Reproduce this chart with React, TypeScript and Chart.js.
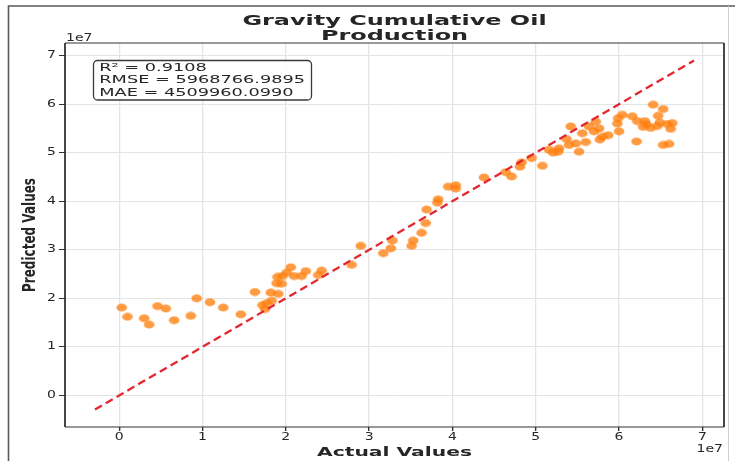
import { useEffect, useRef } from 'react';
import { Chart, registerables } from 'chart.js';

Chart.register(...registerables);

// Values are expressed in units of 1e7 (the axes carry a "1e7" offset label).
const UNIT = 1e7;
const AXIS_MIN = -0.65;
const AXIS_MAX = 7.26;
const TICKS = [0, 1, 2, 3, 4, 5, 6, 7];
const FIT_LINE = [-0.29, 6.9];

const TITLE_LINES = ['Gravity Cumulative Oil', 'Production'];
const X_LABEL = 'Actual Values';
const Y_LABEL = 'Predicted Values';
const OFFSET_LABEL = '1e7';
const STATS = ['R\u00b2 = 0.9108', 'RMSE = 5968766.9895', 'MAE = 4509960.0990'];

const actual = [
  0.03, 0.10, 0.30, 0.36, 0.46, 0.56, 0.66, 0.86, 0.93, 1.09,
  1.25, 1.46, 1.63, 1.72, 1.75, 1.77, 1.83, 1.82, 1.91, 1.89,
  1.95, 1.90, 1.96, 2.01, 2.06, 2.10, 2.19, 2.24, 2.39, 2.43,
  2.79, 2.90, 3.17, 3.26, 3.28, 3.51, 3.53, 3.63, 3.68, 3.69,
  3.82, 3.83, 3.95, 4.04, 4.04, 4.38, 4.64, 4.71, 4.81, 4.83,
  4.95, 5.08, 5.16, 5.21, 5.28, 5.27, 5.37, 5.40, 5.42, 5.48,
  5.52, 5.56, 5.60, 5.64, 5.70, 5.72, 5.76, 5.77, 5.80, 5.87,
  6.00, 5.98, 5.99, 6.04, 6.16, 6.21, 6.22, 6.31, 6.29, 6.33,
  6.38, 6.41, 6.47, 6.46, 6.49, 6.53, 6.53, 6.60, 6.58, 6.64,
  6.62,
];

const predicted = [
  1.81, 1.62, 1.59, 1.46, 1.84, 1.79, 1.55, 1.64, 2.00, 1.92,
  1.81, 1.67, 2.13, 1.86, 1.78, 1.90, 1.95, 2.12, 2.09, 2.31,
  2.30, 2.44, 2.46, 2.53, 2.64, 2.46, 2.46, 2.56, 2.48, 2.57,
  2.69, 3.08, 2.93, 3.03, 3.19, 3.08, 3.19, 3.35, 3.55, 3.83,
  3.97, 4.04, 4.30, 4.33, 4.26, 4.49, 4.60, 4.51, 4.71, 4.80,
  4.89, 4.73, 5.06, 5.00, 5.09, 5.02, 5.28, 5.16, 5.54, 5.19,
  5.02, 5.40, 5.22, 5.54, 5.44, 5.64, 5.50, 5.27, 5.33, 5.36,
  5.44, 5.60, 5.71, 5.78, 5.75, 5.23, 5.65, 5.65, 5.53, 5.58,
  5.51, 5.99, 5.76, 5.55, 5.62, 5.90, 5.16, 5.18, 5.59, 5.61,
  5.49,
];

const FONT = "'DejaVu Sans', sans-serif";
const INK = '#262626';

function drawText(
  ctx: CanvasRenderingContext2D,
  text: string,
  x: number,
  y: number,
  font: string,
  sx: number,
  align: CanvasTextAlign,
  baseline: CanvasTextBaseline,
  vertical = false,
) {
  ctx.save();
  ctx.translate(x, y);
  ctx.scale(sx, 1);
  if (vertical) ctx.rotate(-Math.PI / 2);
  ctx.font = font;
  ctx.textAlign = align;
  ctx.textBaseline = baseline;
  ctx.fillStyle = INK;
  ctx.fillText(text, 0, 0);
  ctx.restore();
}

function makeMarker(): HTMLCanvasElement {
  const c = document.createElement('canvas');
  c.width = 12;
  c.height = 9;
  const g = c.getContext('2d')!;
  g.beginPath();
  g.ellipse(6, 4.5, 5.3, 3.9, 0, 0, Math.PI * 2);
  g.fillStyle = 'rgba(255,127,14,0.78)';
  g.fill();
  return c;
}

const decorations = {
  id: 'decorations',
  beforeDraw(chart: any) {
    const ctx = chart.ctx as CanvasRenderingContext2D;
    ctx.save();
    ctx.fillStyle = '#ffffff';
    ctx.fillRect(0, 0, chart.width, chart.height);
    // outer frame
    ctx.strokeStyle = '#5a5a5a';
    ctx.lineWidth = 1.6;
    ctx.beginPath();
    ctx.moveTo(8.5, chart.height);
    ctx.lineTo(8.5, 6);
    ctx.lineTo(chart.width, 6);
    ctx.stroke();
    ctx.strokeStyle = '#cfcfcf';
    ctx.lineWidth = 1;
    ctx.beginPath();
    ctx.moveTo(728.5, 6);
    ctx.lineTo(728.5, chart.height);
    ctx.stroke();
    ctx.restore();
  },
  afterDraw(chart: any) {
    const ctx = chart.ctx as CanvasRenderingContext2D;
    const { left, right, top, bottom } = chart.chartArea;
    const xs = chart.scales.x;
    const ys = chart.scales.y;

    // spines
    ctx.save();
    ctx.strokeStyle = '#333333';
    ctx.lineWidth = 1.2;
    ctx.beginPath();
    ctx.moveTo(left, top);
    ctx.lineTo(right, top);
    ctx.moveTo(left, bottom);
    ctx.lineTo(right, bottom);
    ctx.stroke();
    ctx.lineWidth = 1.8;
    ctx.beginPath();
    ctx.moveTo(left, top);
    ctx.lineTo(left, bottom);
    ctx.moveTo(right, top);
    ctx.lineTo(right, bottom);
    ctx.stroke();
    ctx.restore();

    // tick labels
    const tickFont = `10px ${FONT}`;
    TICKS.forEach((t) => {
      drawText(ctx, String(t), xs.getPixelForValue(t * UNIT), 437.5, tickFont, 1.4, 'center', 'middle');
      drawText(ctx, String(t), 56, ys.getPixelForValue(t * UNIT), tickFont, 1.4, 'right', 'middle');
    });
    drawText(ctx, OFFSET_LABEL, 66, 38.5, tickFont, 1.4, 'left', 'middle');
    drawText(ctx, OFFSET_LABEL, 723, 449, tickFont, 1.4, 'right', 'middle');

    // title and axis titles
    const cx = (left + right) / 2;
    drawText(ctx, TITLE_LINES[0], cx, 24.8, `bold 14.5px ${FONT}`, 1.65, 'center', 'alphabetic');
    drawText(ctx, TITLE_LINES[1], cx, 39.5, `bold 14.5px ${FONT}`, 1.65, 'center', 'alphabetic');
    drawText(ctx, X_LABEL, cx, 456, `bold 13px ${FONT}`, 1.56, 'center', 'alphabetic');
    drawText(ctx, Y_LABEL, 34.5, (top + bottom) / 2, `bold 12px ${FONT}`, 1.45, 'center', 'alphabetic', true);

    // statistics box
    ctx.save();
    ctx.beginPath();
    ctx.roundRect(93.5, 60.5, 218, 39.5, 4);
    ctx.fillStyle = 'rgba(255,255,255,0.85)';
    ctx.fill();
    ctx.strokeStyle = '#3a3a3a';
    ctx.lineWidth = 1.3;
    ctx.stroke();
    ctx.restore();
    const statFont = `11px ${FONT}`;
    const baselines = [70.7, 83.2, 95.7];
    STATS.forEach((s, i) => drawText(ctx, s, 99.3, baselines[i], statFont, 1.61, 'left', 'alphabetic'));
  },
};

export default function App() {
  const canvasRef = useRef<HTMLCanvasElement | null>(null);

  useEffect(() => {
    const canvas = canvasRef.current;
    if (!canvas) return;
    const marker = makeMarker();
    const points = actual.map((a, i) => ({ x: a * UNIT, y: predicted[i] * UNIT }));
    const fit = FIT_LINE.map((v) => ({ x: v * UNIT, y: v * UNIT }));
    const setTicks = (scale: any) => {
      scale.ticks = TICKS.map((t) => ({ value: t * UNIT }));
    };
    const gridCommon = {
      color: '#e4e4e4',
      drawTicks: true,
      tickColor: '#333333',
    };

    const chart = new Chart(canvas, {
      type: 'scatter',
      data: {
        datasets: [
          {
            type: 'line',
            label: 'fit',
            data: fit,
            borderColor: '#e4262f',
            borderWidth: 2.3,
            borderDash: [8, 4.5],
            pointRadius: 0,
            fill: false,
            tension: 0,
          } as any,
          {
            label: 'points',
            data: points,
            pointStyle: marker as any,
            pointRadius: 5,
            pointHoverRadius: 5,
            backgroundColor: 'rgba(255,127,14,0.78)',
            borderWidth: 0,
          },
        ],
      },
      plugins: [decorations],
      options: {
        responsive: false,
        animation: false,
        devicePixelRatio: 1,
        layout: { padding: { top: 43, right: 11, left: 0, bottom: 0 } },
        plugins: {
          legend: { display: false },
          tooltip: { enabled: false },
          title: { display: false },
        },
        scales: {
          x: {
            type: 'linear',
            min: AXIS_MIN * UNIT,
            max: AXIS_MAX * UNIT,
            afterBuildTicks: setTicks,
            afterFit: (scale: any) => {
              scale.height = 34;
            },
            ticks: { display: false },
            border: { display: false },
            grid: { ...gridCommon, lineWidth: 1.3, tickLength: 4, tickWidth: 1.4 },
          },
          y: {
            type: 'linear',
            min: AXIS_MIN * UNIT,
            max: AXIS_MAX * UNIT,
            afterBuildTicks: setTicks,
            afterFit: (scale: any) => {
              scale.width = 65;
            },
            ticks: { display: false },
            border: { display: false },
            grid: { ...gridCommon, lineWidth: 1, tickLength: 6, tickWidth: 1 },
          },
        },
      },
    });
    return () => chart.destroy();
  }, []);

  return (
    <div style={{ position: 'fixed', left: 0, top: 0, width: 735, height: 461, background: '#fff' }}>
      <canvas ref={canvasRef} width={735} height={461} style={{ display: 'block' }} />
    </div>
  );
}
